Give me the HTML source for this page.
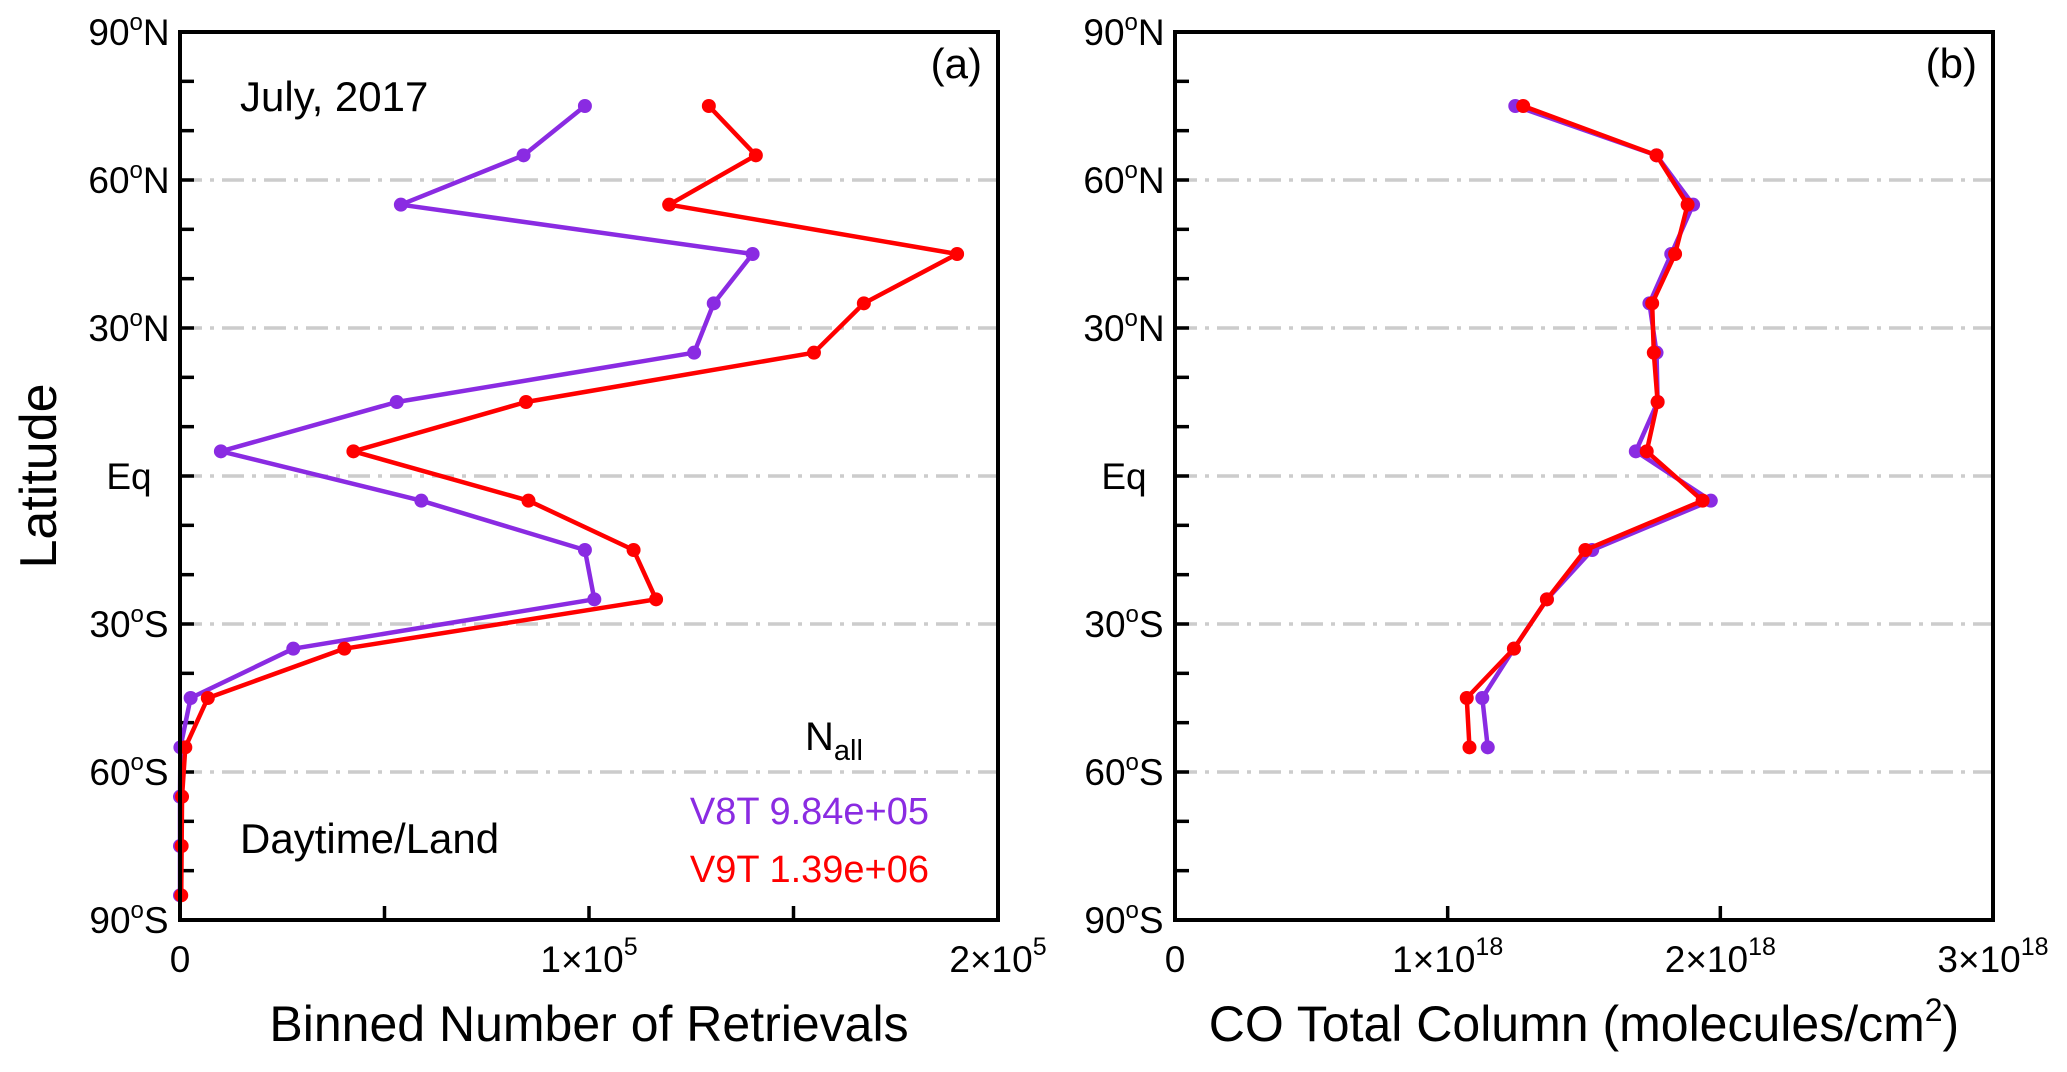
<!DOCTYPE html>
<html><head><meta charset="utf-8"><style>
html,body{margin:0;padding:0;background:#fff}
svg{display:block;font-family:"Liberation Sans",sans-serif}
</style></head><body>
<svg id="chart" width="2067" height="1072" viewBox="0 0 2067 1072" xmlns="http://www.w3.org/2000/svg"></svg>
<script>
const lats = [75,65,55,45,35,25,15,5,-5,-15,-25,-35,-45,-55,-65,-75,-85];
const aV8 = [0.99,0.84,0.54,1.40,1.305,1.257,0.53,0.10,0.59,0.99,1.013,0.277,0.026,0.001,0.0,0.0,0.0];
const aV9 = [1.293,1.408,1.196,1.90,1.672,1.55,0.846,0.424,0.852,1.109,1.164,0.402,0.068,0.013,0.005,0.004,0.003];
const bLats = [75,65,55,45,35,25,15,5,-5,-15,-25,-35,-45,-55];
const bV8 = [1.248,1.766,1.90,1.82,1.74,1.766,1.77,1.69,1.965,1.53,1.364,1.243,1.127,1.147];
const bV9 = [1.277,1.766,1.88,1.834,1.75,1.756,1.77,1.73,1.935,1.505,1.364,1.243,1.07,1.08];
const yTickLabels = [["90","N",90],["60","N",60],["30","N",30],["Eq","",0],["30","S",-30],["60","S",-60],["90","S",-90]];

const NS="http://www.w3.org/2000/svg";
const svg=document.getElementById('chart');
function mk(tag,attrs,parent){const e=document.createElementNS(NS,tag);for(const k in attrs)e.setAttribute(k,attrs[k]);(parent||svg).appendChild(e);return e;}
const T=32,B=920;
function yS(lat){return T+(90-lat)/180*(B-T);}

function panel(L,R,xmax,xTicks,xLabels,title,tag,series,latsArr,name){
  const g=mk('g',{});
  
  
  const xS=v=>L+v/xmax*(R-L);
  [60,30,0,-30,-60].forEach(l=>{
    const gl=mk('line',{x1:L,x2:R,y1:yS(l),y2:yS(l),stroke:'#cccccc','stroke-width':3.5,'stroke-dasharray':'22 8 4 8'},g);
    
    
  });
  for(let l=-80;l<=80;l+=10){
    const t=mk('line',{x1:L,x2:L+14,y1:yS(l),y2:yS(l),stroke:'#000','stroke-width':3.5},g);
    
    
  }
  xTicks.forEach(v=>{
    const t=mk('line',{x1:xS(v),x2:xS(v),y1:B,y2:B-14,stroke:'#000','stroke-width':3.5},g);
    
    
  });
  xLabels.forEach(([v,base,exp])=>{
    const t=mk('text',{x:xS(v),y:972,'text-anchor':'middle','font-size':37},g);
    
    
    t.textContent=base;
    if(exp){const s=mk('tspan',{'font-size':25,dy:-17},t);s.textContent=exp;}
  });
  const cx=L-51;
  yTickLabels.forEach(([n,h,l])=>{
    const t=mk('text',{x:cx,y:yS(l)+13,'text-anchor':'middle','font-size':37},g);
    
    
    t.textContent=n;
    if(h){const s=mk('tspan',{'font-size':24,dy:-15},t);s.textContent='o';const s2=mk('tspan',{dy:15},t);s2.textContent=h;}
  });
  series.forEach(([vals,color,sname])=>{
    const pts=vals.map((v,i)=>xS(v)+','+yS(latsArr[i])).join(' ');
    const pl=mk('polyline',{points:pts,fill:'none',stroke:color,'stroke-width':4.5,'stroke-linejoin':'round'},g);
    
    
    vals.forEach((v,i)=>{
      const c=mk('circle',{cx:xS(v),cy:yS(latsArr[i]),r:7,fill:color},g);
      
      
    });
  });
  const fr=mk('rect',{x:L,y:T,width:R-L,height:B-T,fill:'none',stroke:'#000','stroke-width':4},g);
  
  
  const tt=mk('text',{x:(L+R)/2,y:1041,'text-anchor':'middle','font-size':50},g);
  
  
  tt.innerHTML=title;
  const pt=mk('text',{x:R-16,y:78,'text-anchor':'end','font-size':42},g);
  
  
  pt.textContent=tag;
  return g;
}
panel(180,998,2,[0.5,1,1.5],[[0,'0',''],[1,'1×10','5'],[2,'2×10','5']],'Binned Number of Retrievals','(a)',[[aV8,'#8a2be2','v8t'],[aV9,'#ff0000','v9t']],lats,'panel-a');
panel(1175,1993,3,[1,2],[[0,'0',''],[1,'1×10','18'],[2,'2×10','18'],[3,'3×10','18']],'CO Total Column (molecules/cm<tspan font-size="32" dy="-20">2</tspan><tspan dy="20">)</tspan>','(b)',[[bV8,'#8a2be2','v8t'],[bV9,'#ff0000','v9t']],bLats,'panel-b');

function txt(x,y,s,size,color,anchor,name){const t=mk('text',{x:x,y:y,'font-size':size,fill:color,'text-anchor':anchor||'start'});
  
  
  t.textContent=s;return t;}
txt(240,111,'July, 2017',42,'#000','start','month-label');
txt(240,853,'Daytime/Land',42,'#000','start','scene-label');
const na=txt(805,750,'N',40,'#000','start','legend-title');
const sub=mk('tspan',{'font-size':29,dy:10},na);sub.textContent='all';
txt(929,824,'V8T 9.84e+05',38,'#8a2be2','end','legend-v8t');
txt(929,882,'V9T 1.39e+06',38,'#ff0000','end','legend-v9t');
const yl=mk('text',{x:0,y:0,'font-size':52,'text-anchor':'middle',transform:'translate(56,476) rotate(-90)'});


yl.textContent='Latitude';
</script>
</body></html>
